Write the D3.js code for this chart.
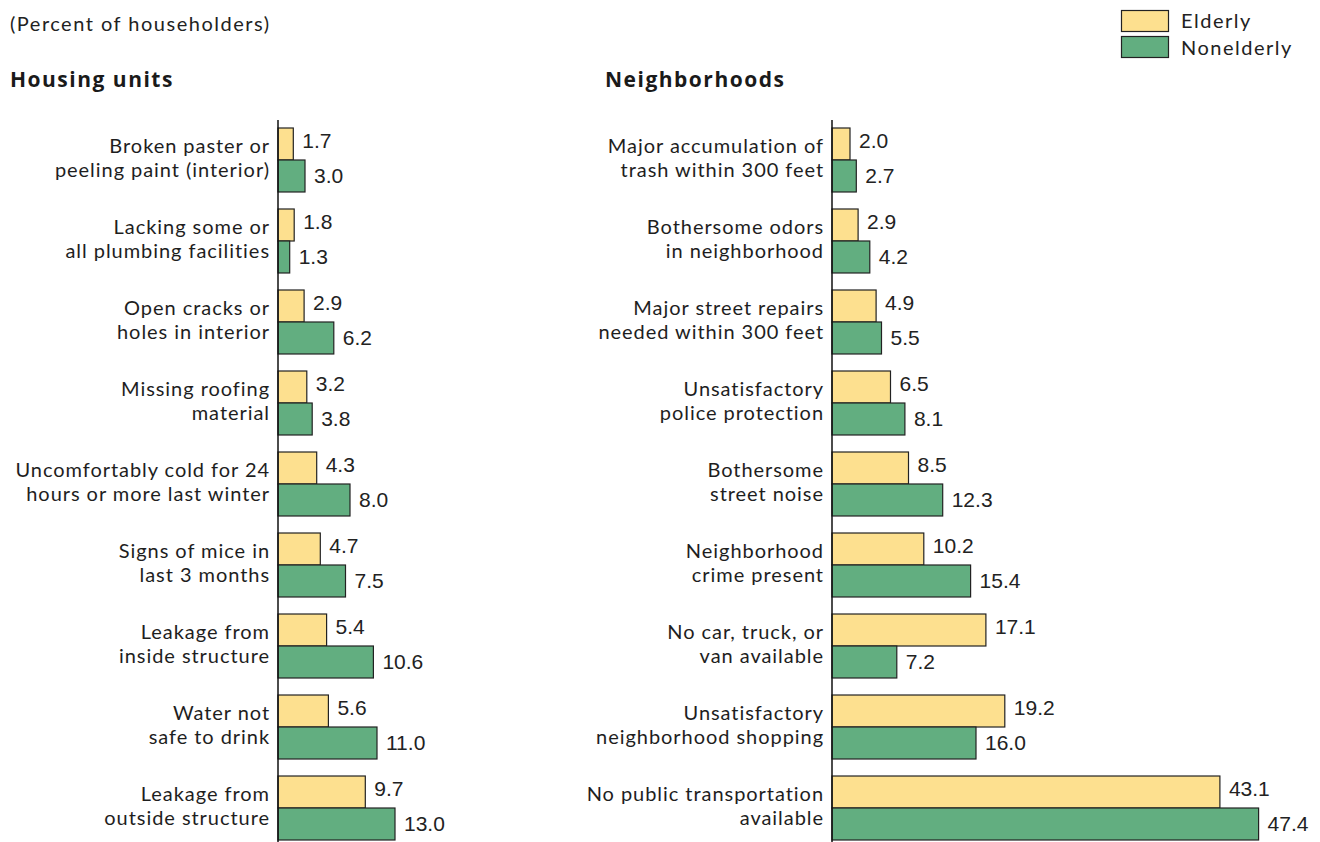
<!DOCTYPE html>
<html>
<head>
<meta charset="utf-8">
<script src="https://cdn.jsdelivr.net/npm/d3@7"></script>
<style>
  body { margin: 0; background: #fff; }
  svg { display: block; }
</style>
</head>
<body>
<div id="chart"></div>
<script>
// housing units panel
let housingLabels = [
    ["Broken paster or", "peeling paint (interior)"],
    ["Lacking some or", "all plumbing facilities"],
    ["Open cracks or", "holes in interior"],
    ["Missing roofing", "material"],
    ["Uncomfortably cold for 24", "hours or more last winter"],
    ["Signs of mice in", "last 3 months"],
    ["Leakage from", "inside structure"],
    ["Water not", "safe to drink"],
    ["Leakage from", "outside structure"]
];
let housingElderly = [1.7, 1.8, 2.9, 3.2, 4.3, 4.7, 5.4, 5.6, 9.7];
let housingNonelderly = [3.0, 1.3, 6.2, 3.8, 8.0, 7.5, 10.6, 11.0, 13.0];

// neighborhoods panel
let hoodLabels = [
    ["Major accumulation of", "trash within 300 feet"],
    ["Bothersome odors", "in neighborhood"],
    ["Major street repairs", "needed within 300 feet"],
    ["Unsatisfactory", "police protection"],
    ["Bothersome", "street noise"],
    ["Neighborhood", "crime present"],
    ["No car, truck, or", "van available"],
    ["Unsatisfactory", "neighborhood shopping"],
    ["No public transportation", "available"]
];
let hoodElderly = [2.0, 2.9, 4.9, 6.5, 8.5, 10.2, 17.1, 19.2, 43.1];
let hoodNonelderly = [2.7, 4.2, 5.5, 8.1, 12.3, 15.4, 7.2, 16.0, 47.4];

let seriesNames = ["Elderly", "Nonelderly"];
let seriesColors = ["#fde08f", "#62ae80"];

let width = 1320, height = 842;
let labelFont = "Lato, 'Open Sans', sans-serif";
let headFont = "'Open Sans', 'Noto Sans', sans-serif";
let valueFont = "'Liberation Sans', Arial, sans-serif";

let svg = d3.select('#chart').append('svg')
    .attr('width', width)
    .attr('height', height);

svg.append('text')
    .attr('x', 10).attr('y', 31)
    .attr('font-family', labelFont)
    .attr('font-size', 20)
    .attr('letter-spacing', 1.5)
    .attr('fill', '#222')
    .text('(Percent of householders)');

// legend
let legend = svg.append('g');
seriesNames.forEach((name, i) => {
    legend.append('rect')
        .attr('x', 1121.5).attr('y', 10.5 + i * 26)
        .attr('width', 47).attr('height', 21)
        .attr('fill', seriesColors[i])
        .attr('stroke', '#222').attr('stroke-width', 1.2);
    legend.append('text')
        .attr('x', 1181).attr('y', 28 + i * 27)
        .attr('font-family', labelFont)
        .attr('font-size', 20)
        .attr('letter-spacing', 1.5)
        .attr('fill', '#222')
        .text(name);
});

// one unit = 9px in both panels
function drawPanel(title, titleX, axisX, labels, elderly, nonelderly) {
    let g = svg.append('g');

    g.append('text')
        .attr('x', titleX).attr('y', 87)
        .attr('font-family', headFont)
        .attr('font-weight', 'bold')
        .attr('font-size', 21)
        .attr('letter-spacing', 1.5)
        .attr('fill', '#1a1a1a')
        .text(title);

    let x = d3.scaleLinear().domain([0, 50]).range([axisX, axisX + 450]);
    let y = d3.scaleBand()
        .domain(d3.range(labels.length))
        .range([128, 840])
        .paddingInner(0.21)
        .paddingOuter(0);
    let half = y.bandwidth() / 2;

    let rows = g.selectAll('g.row')
        .data(labels.map((l, i) => ({ label: l, vals: [elderly[i], nonelderly[i]], i: i })))
        .join('g')
        .attr('class', 'row')
        .attr('transform', d => `translate(0,${y(d.i)})`);

    [0, 1].forEach(s => {
        rows.append('rect')
            .attr('x', x(0))
            .attr('y', s * half)
            .attr('width', d => x(d.vals[s]) - x(0))
            .attr('height', half)
            .attr('fill', seriesColors[s])
            .attr('stroke', '#222')
            .attr('stroke-width', 1.2);

        rows.append('text')
            .attr('x', d => x(d.vals[s]) + 9)
            .attr('y', s ? 55 : 20)
            .attr('font-family', valueFont)
            .attr('font-size', 21)
            .attr('fill', '#222')
            .text(d => d.vals[s].toFixed(1));

        rows.append('text')
            .attr('x', axisX - 8)
            .attr('y', s ? 49 : 25)
            .attr('text-anchor', 'end')
            .attr('font-family', labelFont)
            .attr('font-size', 20)
            .attr('letter-spacing', 0.95)
            .attr('fill', '#1e1e1e')
            .text(d => d.label[s]);
    });

    // baseline axis
    g.append('line')
        .attr('x1', x(0)).attr('x2', x(0))
        .attr('y1', 120).attr('y2', height)
        .attr('stroke', '#111').attr('stroke-width', 1.5);
}

drawPanel('Housing units', 10, 278, housingLabels, housingElderly, housingNonelderly);
drawPanel('Neighborhoods', 605, 832, hoodLabels, hoodElderly, hoodNonelderly);
</script>
</body>
</html>
